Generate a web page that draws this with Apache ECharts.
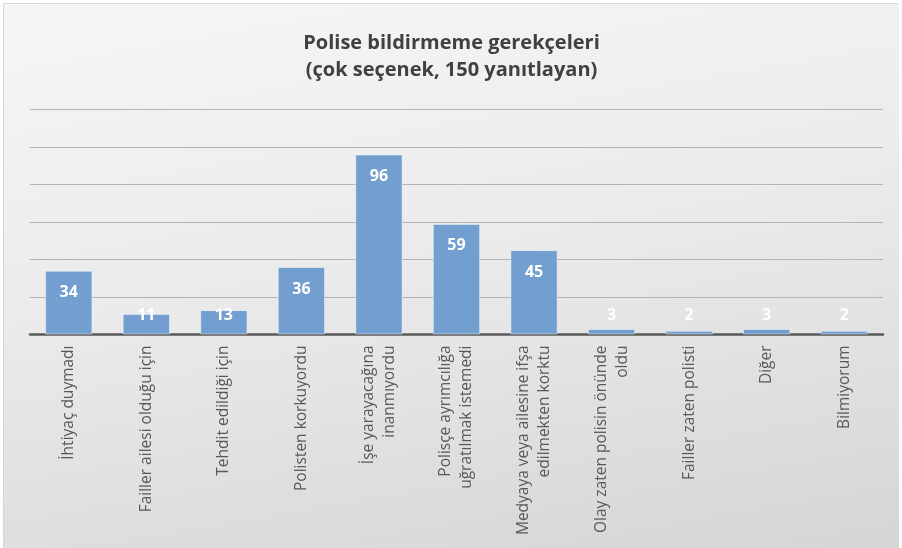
<!DOCTYPE html>
<html>
<head>
<meta charset="utf-8">
<script src="https://cdn.jsdelivr.net/npm/echarts@6/dist/echarts.min.js"></script>
<style>
html,body{margin:0;padding:0;background:#ffffff;}
#wrap{position:absolute;left:3px;top:3px;width:895px;height:545px;border:1px solid #d6d6d6;border-right:none;border-bottom:none;
background:linear-gradient(170deg,#f6f6f6 0%,#ebebeb 45%,#d5d5d5 100%);}
#chart{width:100%;height:100%;}
</style>
</head>
<body>
<div id="wrap"><div id="chart"></div></div>
<script>
const titleLines = ['Polise bildirmeme gerekçeleri', '(çok seçenek, 150 yanıtlayan)'];
const categories = [
  'İhtiyaç duymadı',
  'Failler ailesi olduğu için',
  'Tehdit edildiği için',
  'Polisten korkuyordu',
  'İşe yarayacağına\ninanmıyordu',
  'Polisçe ayrımcılığa\nuğratılmak istemedi',
  'Medyaya veya ailesine ifşa\nedilmekten korktu',
  'Olay zaten polisin önünde\noldu',
  'Failler zaten polisti',
  'Diğer',
  'Bilmiyorum'
];
const values = [34, 11, 13, 36, 96, 59, 45, 3, 2, 3, 2];
const yMin = 0, yMax = 120, yStep = 20;

const chart = echarts.init(document.getElementById('chart'));
const seriesData = values.map(v => ({
  value: v,
  label: v < 22 ? { position: 'insideBottom', distance: 11.5 } : { position: 'insideTop', distance: 14 }
}));

chart.setOption({
  backgroundColor: 'transparent',
  animation: false,
  title: {
    text: titleLines.join('\n'),
    left: 'center',
    top: 21,
    textStyle: { fontFamily: 'Open Sans', fontWeight: 'bold', fontSize: 20, color: '#404040', lineHeight: 27 }
  },
  grid: { left: 26, right: 16, top: 105.5, bottom: 214.5, containLabel: false },
  xAxis: {
    type: 'category',
    data: categories,
    axisLine: { lineStyle: { color: '#595959', width: 2.5 } },
    axisTick: { show: false },
    axisLabel: {
      rotate: 90, interval: 0, margin: 11,
      fontFamily: 'Open Sans', fontSize: 15.5, color: '#595959', lineHeight: 21
    }
  },
  yAxis: {
    type: 'value',
    min: yMin, max: yMax, interval: yStep,
    axisLabel: { show: false },
    axisLine: { show: false },
    axisTick: { show: false },
    splitLine: { lineStyle: { color: '#b4b4b4', width: 1 } }
  },
  series: [{
    type: 'bar',
    data: seriesData,
    barCategoryGap: '39%',
    itemStyle: { color: '#729fcf', borderColor: 'rgba(255,255,255,0.45)', borderWidth: 1 },
    label: {
      show: true,
      color: '#ffffff',
      fontFamily: 'Open Sans',
      fontWeight: 'bold',
      fontSize: 16
    }
  }]
});
</script>
</body>
</html>
